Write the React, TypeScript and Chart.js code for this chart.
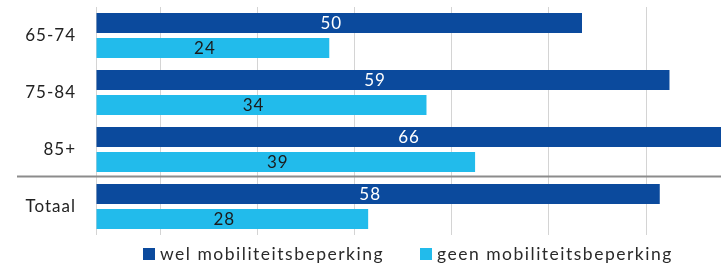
import React, { useEffect, useRef } from "react";
import { Chart, registerables } from "chart.js";

Chart.register(...registerables);

const categories = ["65-74", "75-84", "85+", "Totaal"];
const welValues = [50, 59, 66, 58];
const geenValues = [24, 34, 39, 28];
const seriesNames = ["wel mobiliteitsbeperking", "geen mobiliteitsbeperking"];
const gridTicks = [0, 6.6, 16.6, 26.6, 36.6, 46.6, 56.6];

const DARK = "#0b4a9d";
const LIGHT = "#22bbeb";
const FONT = "Lato, 'Open Sans', sans-serif";

const overlayPlugin = {
  id: "overlay",
  beforeDraw(chart: any) {
    chart.ctx.letterSpacing = "1px";
  },
  afterDatasetsDraw(chart: any) {
    const ctx = chart.ctx;
    ctx.save();
    ctx.letterSpacing = "1px";
    ctx.font = `17px ${FONT}`;
    ctx.textAlign = "center";
    ctx.textBaseline = "middle";
    chart.data.datasets.forEach((ds: any, di: number) => {
      const meta = chart.getDatasetMeta(di);
      ctx.fillStyle = di === 0 ? "#ffffff" : "#1b1b1b";
      meta.data.forEach((el: any, i: number) => {
        const cx = (el.x + el.base) / 2 - 8;
        ctx.fillText(String(ds.data[i]), cx, el.y + 1);
      });
    });
    ctx.restore();
  },
  afterDraw(chart: any) {
    const ctx = chart.ctx;
    const y = chart.scales.y;
    const sepY = Math.round((y.getPixelForValue(2) + y.getPixelForValue(3)) / 2) - 1.5;
    ctx.save();
    ctx.strokeStyle = "#8c8c8c";
    ctx.lineWidth = 2;
    ctx.beginPath();
    ctx.moveTo(17, sepY);
    ctx.lineTo(chart.width, sepY);
    ctx.stroke();

    // legend
    const colors = [DARK, LIGHT];
    const starts = [143, 420];
    const ly = 254;
    ctx.letterSpacing = "1.5px";
    ctx.font = `17.5px ${FONT}`;
    ctx.textBaseline = "middle";
    ctx.textAlign = "left";
    seriesNames.forEach((name, i) => {
      ctx.fillStyle = colors[i];
      ctx.fillRect(starts[i], ly - 6, 12, 12);
      ctx.fillStyle = "#2a2a2a";
      ctx.fillText(name, starts[i] + 17, ly);
    });
    ctx.restore();
  },
};

export default function App() {
  const ref = useRef<HTMLCanvasElement>(null);
  useEffect(() => {
    document.body.style.margin = "0";
    const chart = new Chart(ref.current!, {
      type: "bar",
      data: {
        labels: categories,
        datasets: [
          { label: seriesNames[0], data: welValues, backgroundColor: DARK },
          { label: seriesNames[1], data: geenValues, backgroundColor: LIGHT },
        ],
      },
      options: {
        indexAxis: "y",
        responsive: false,
        animation: false,
        categoryPercentage: 0.877,
        barPercentage: 0.8,
        layout: { padding: { top: 7, bottom: 32, left: 0, right: 0 } },
        plugins: { legend: { display: false }, tooltip: { enabled: false } },
        scales: {
          x: {
            min: 0,
            max: 64.3,
            afterBuildTicks: (scale: any) => {
              scale.ticks = gridTicks.map((v) => ({ value: v }));
            },
            afterFit: (scale: any) => {
              scale.height = 0;
              scale.paddingLeft = 0;
              scale.paddingRight = 0;
            },
            ticks: { display: false },
            grid: { color: "#d4d4d4", lineWidth: 1, drawTicks: false },
            border: { display: false },
          },
          y: {
            afterFit: (scale: any) => {
              scale.width = 96;
              scale.paddingTop = 0;
              scale.paddingBottom = 0;
            },
            grid: { display: false, drawTicks: false },
            border: { display: false },
            ticks: {
              color: "#222222",
              font: { family: FONT, size: 17 },
              padding: 20,
            },
          },
        },
      },
      plugins: [overlayPlugin],
    });
    return () => chart.destroy();
  }, []);
  return <canvas ref={ref} width={721} height={267} style={{ display: "block" }} />;
}
